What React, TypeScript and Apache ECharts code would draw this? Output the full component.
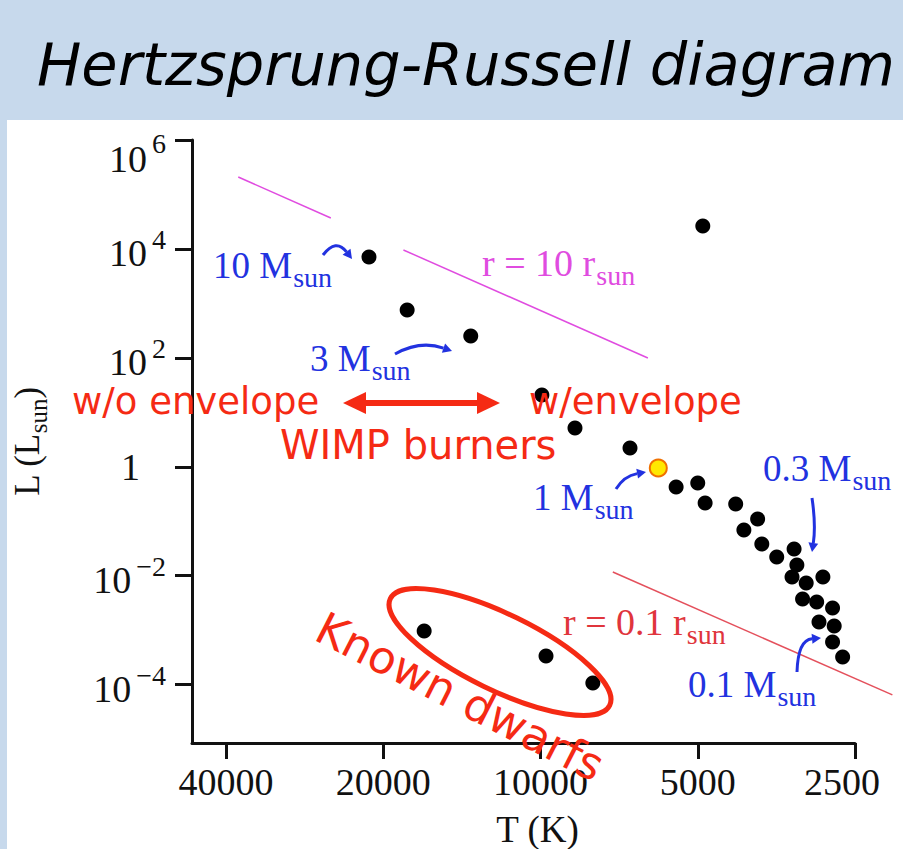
import React, { useEffect, useRef } from 'react';
import * as echarts from 'echarts';

// Main-sequence stars (temperature in K, luminosity in solar units)
const MAIN_T = [21300, 18000, 13600, 9940, 8590, 6740, 5500, 5000, 4840, 4230, 3840, 4080, 3770, 3530, 3270, 3230, 3300, 3100, 2880, 3150, 2960, 2760, 2930, 2740, 2760, 2640];
const MAIN_L = [7100, 757, 252, 20.8, 5.16, 2.21, 0.426, 0.505, 0.217, 0.208, 0.110, 0.0692, 0.0383, 0.0221, 0.031, 0.0157, 0.00948, 0.00736, 0.00948, 0.00374, 0.0033, 0.00256, 0.00142, 0.0012, 0.000608, 0.000323];
// Giant
const GIANT_T = [4890];
const GIANT_L = [26400];
// The Sun
const SUN_T = [5950];
const SUN_L = [0.95];
// Known white dwarfs
const DWARF_T = [16700, 9760, 7940];
const DWARF_L = [0.00097, 0.000337, 0.000107];

// Constant-radius lines
const R10_A_T = [37900, 25200];
const R10_A_L = [209000, 37000];
const R10_B_T = [18300, 6230];
const R10_B_L = [9570, 99.5];
const R01_T = [7270, 2120];
const R01_L = [0.0117, 0.000065];

// Axes
const T_TICKS = [40000, 20000, 10000, 5000, 2500];
const L_TICK_EXP = [6, 4, 2, 0, -2, -4];
const T_RANGE = [2500, 46470];
const L_RANGE = [8.5e-6, 1e6];

const lg = (v: number) => Math.log10(v);
const pairs = (ts: number[], ls: number[]) => ts.map((t, i) => [lg(t), lg(ls[i])]);

const SERIF = '"Liberation Serif", "DejaVu Serif", serif';
const SANS = '"DejaVu Sans", sans-serif';
const BLUE = '#2232e0';
const RED = '#f52a14';
const MAGENTA = '#e04ce0';
const DARK_RED = '#e0353c';
const RADIUS_RED = '#e4505c';
const BAND = '#c7d9ec';

function curvedArrow(x1: number, y1: number, cx: number, cy: number, x2: number, y2: number, color: string, lw: number, head = 9) {
  const ang = Math.atan2(y2 - cy, x2 - cx);
  const hx = x2 - head * Math.cos(ang);
  const hy = y2 - head * Math.sin(ang);
  const px = -Math.sin(ang) * head * 0.55;
  const py = Math.cos(ang) * head * 0.55;
  return [
    { type: 'bezierCurve', z: 10, shape: { x1, y1, cpx1: cx, cpy1: cy, x2: hx, y2: hy }, style: { stroke: color, lineWidth: lw, fill: null } },
    { type: 'polygon', z: 10, shape: { points: [[x2, y2], [hx + px, hy + py], [hx - px, hy - py]] }, style: { fill: color } },
  ];
}

// Serif label with a dropped "sun" subscript
function subText(x: number, y: number, main: string, sub: string, color: string, size = 37, subSize = 28) {
  return {
    type: 'text', z: 10, x, y,
    style: {
      text: '{m|' + main + '}{s|' + sub + '}',
      align: 'left',
      verticalAlign: 'middle',
      rich: {
        m: { fontSize: size, fontFamily: SERIF, fill: color, lineHeight: size + 4 },
        s: { fontSize: subSize, fontFamily: SERIF, fill: color, lineHeight: subSize, padding: [24, 0, 0, 1] },
      },
    },
  };
}

function redText(x: number, y: number, text: string, size: number) {
  return { type: 'text', z: 10, x, y, style: { text, fontSize: size, fontFamily: SANS, fill: RED, align: 'left', verticalAlign: 'middle' } };
}

export default function App() {
  const ref = useRef<HTMLDivElement>(null);

  useEffect(() => {
    if (!ref.current) return;
    const chart = echarts.init(ref.current, null, { renderer: 'svg' });

    const graphic: any[] = [
      { type: 'rect', z: -10, shape: { x: 0, y: 0, width: 903, height: 120 }, style: { fill: BAND } },
      { type: 'rect', z: -10, shape: { x: 0, y: 120, width: 7, height: 729 }, style: { fill: BAND } },
      {
        type: 'text', z: 10, x: 466, y: 64,
        style: { text: 'Hertzsprung-Russell diagram', fontSize: 59, fontStyle: 'italic', fontFamily: SANS, fill: '#000', align: 'center', verticalAlign: 'middle' },
      },
      // mass and radius labels
      subText(213, 265, '10 M', 'sun', BLUE),
      subText(310, 358, '3 M', 'sun', BLUE),
      subText(533, 497, '1 M', 'sun', BLUE),
      subText(763, 468, '0.3 M', 'sun', BLUE),
      subText(688, 684, '0.1 M', 'sun', BLUE),
      subText(482, 263, 'r = 10 r', 'sun', MAGENTA, 38),
      subText(563, 622, 'r = 0.1 r', 'sun', DARK_RED, 38),
      ...curvedArrow(323, 255, 336, 238, 352, 259, BLUE, 3),
      ...curvedArrow(395, 354, 420, 340, 452, 351, BLUE, 3),
      ...curvedArrow(616, 489, 624, 476, 646, 472, BLUE, 3),
      ...curvedArrow(812, 498, 816, 525, 812, 552, BLUE, 3),
      ...curvedArrow(797, 672, 798, 640, 821, 638, BLUE, 3),
      // WIMP burner annotations
      redText(72, 401, 'w/o envelope', 37),
      redText(529, 401, 'w/envelope', 37),
      redText(280, 445, 'WIMP burners', 40),
      { type: 'line', z: 10, shape: { x1: 362, y1: 403, x2: 481, y2: 403 }, style: { stroke: RED, lineWidth: 6 } },
      { type: 'polygon', z: 10, shape: { points: [[343, 403], [366, 392], [366, 414]] }, style: { fill: RED } },
      { type: 'polygon', z: 10, shape: { points: [[500, 403], [477, 392], [477, 414]] }, style: { fill: RED } },
      // Known dwarfs
      { type: 'ellipse', z: 10, x: 500, y: 652, rotation: (-26 * Math.PI) / 180, shape: { cx: 0, cy: 0, rx: 122, ry: 38 }, style: { fill: null, stroke: RED, lineWidth: 5 } },
      {
        type: 'text', z: 10, x: 460, y: 697, rotation: (-27 * Math.PI) / 180,
        style: { text: 'Known dwarfs', fontSize: 45, fontFamily: SANS, fill: RED, align: 'center', verticalAlign: 'middle' },
      },
    ];

    const lineSeries = (data: number[][], color: string) => ({
      type: 'line', data, showSymbol: false, symbol: 'none', clip: false, silent: true,
      lineStyle: { color, width: 1.5 }, z: 3,
    });
    const dotStyle = { color: '#000', opacity: 1 };

    chart.setOption({
      animation: false,
      backgroundColor: '#fff',
      grid: { left: 192, right: 48, top: 140, bottom: 106, containLabel: false, outerBoundsMode: 'none' },
      xAxis: {
        type: 'value',
        inverse: true,
        min: lg(T_RANGE[0]),
        max: lg(T_RANGE[1]),
        name: 'T (K)',
        nameLocation: 'middle',
        nameGap: 68,
        nameTextStyle: { fontFamily: SERIF, fontSize: 37, lineHeight: 37, color: '#111', padding: [0, 0, 0, 28] },
        splitLine: { show: false },
        axisLine: { onZero: false, lineStyle: { color: '#111', width: 3 } },
        axisTick: { length: 16, lineStyle: { color: '#111', width: 3 }, customValues: T_TICKS.map(lg) },
        axisLabel: {
          customValues: T_TICKS.map(lg),
          margin: 20,
          color: '#111',
          formatter: (v: number) => {
            const t = Math.round(Math.pow(10, v));
            // the last label sits inside the axis end
            return t === T_TICKS[T_TICKS.length - 1] ? '{end|' + t + '}' : '{n|' + t + '}';
          },
          rich: {
            n: { fontFamily: SERIF, fontSize: 38, color: '#111' },
            end: { fontFamily: SERIF, fontSize: 38, color: '#111', padding: [0, 26, 0, 0] },
          },
        },
      },
      yAxis: {
        type: 'value',
        min: lg(L_RANGE[0]),
        max: lg(L_RANGE[1]),
        name: '{m|L (L}{s|sun}{m|)}',
        nameLocation: 'middle',
        nameRotate: 90,
        nameGap: 145,
        nameTextStyle: {
          color: '#111',
          rich: {
            m: { fontFamily: SERIF, fontSize: 35, lineHeight: 40, color: '#111' },
            s: { fontFamily: SERIF, fontSize: 25, lineHeight: 25, padding: [22, 0, 0, 0], color: '#111' },
          },
        },
        splitLine: { show: false },
        axisLine: { onZero: false, lineStyle: { color: '#111', width: 3 } },
        axisTick: { length: 17, lineStyle: { color: '#111', width: 3 }, customValues: L_TICK_EXP },
        axisLabel: {
          customValues: L_TICK_EXP,
          margin: 26,
          color: '#111',
          formatter: (v: number) => {
            const e = Math.round(v);
            if (e === 0) return '{one|1}';
            const s = (e < 0 ? '\u2212' : '') + Math.abs(e);
            if (e === 6) return '{b6|10}{e6|' + s + '}';
            return '{b|10}{e|' + s + '}';
          },
          rich: {
            one: { fontFamily: SERIF, fontSize: 38, lineHeight: 38, padding: [0, 26, 0, 0], color: '#111' },
            b: { fontFamily: SERIF, fontSize: 38, lineHeight: 36, padding: [8, 0, 0, 0], color: '#111' },
            e: { fontFamily: SERIF, fontSize: 28, lineHeight: 26, padding: [0, 0, 18, 5], color: '#111' },
            b6: { fontFamily: SERIF, fontSize: 38, lineHeight: 36, padding: [38, 0, 0, 0], color: '#111' },
            e6: { fontFamily: SERIF, fontSize: 28, lineHeight: 26, padding: [6, 0, 0, 5], color: '#111' },
          },
        },
      },
      series: [
        lineSeries(pairs(R10_A_T, R10_A_L), MAGENTA),
        lineSeries(pairs(R10_B_T, R10_B_L), MAGENTA),
        { type: 'scatter', data: pairs(MAIN_T, MAIN_L), symbolSize: 15, itemStyle: dotStyle, z: 4, silent: true },
        { type: 'scatter', data: pairs(GIANT_T, GIANT_L), symbolSize: 15, itemStyle: dotStyle, z: 4, silent: true },
        { type: 'scatter', data: pairs(DWARF_T, DWARF_L), symbolSize: 15, itemStyle: dotStyle, z: 4, silent: true },
        {
          type: 'scatter', data: pairs(SUN_T, SUN_L), symbolSize: 17, z: 5, silent: true,
          itemStyle: { color: '#ffe800', borderColor: '#f07000', borderWidth: 2, opacity: 1 },
        },
      ],
      graphic,
    });

    // The r = 0.1 r_sun line runs past the right end of the temperature axis,
    // so it is drawn unclipped from the grid's own data-to-pixel mapping.
    const r01Points = pairs(R01_T, R01_L).map((p) => chart.convertToPixel({ gridIndex: 0 }, p));
    chart.setOption({
      graphic: [
        ...graphic,
        { type: 'polyline', z: 3, shape: { points: r01Points }, style: { stroke: RADIUS_RED, lineWidth: 1.5, fill: null } },
      ],
    });

    return () => chart.dispose();
  }, []);

  return <div ref={ref} style={{ position: 'absolute', left: 0, top: 0, width: 903, height: 849 }} />;
}
